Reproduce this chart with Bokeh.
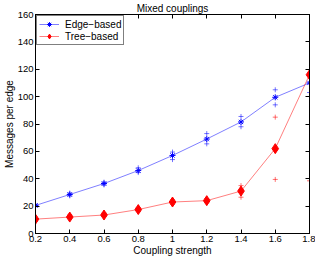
from bokeh.plotting import figure
from bokeh.models import (LinearAxis, FixedTicker, CustomJSTickFormatter, Range1d,
                          Legend, LegendItem)
from bokeh.embed import file_html
from bokeh.resources import INLINE

# ---- data ----
coupling = [0.2, 0.4, 0.6, 0.8, 1.0, 1.2, 1.4, 1.6, 1.8]
edge_mean = [20.5, 28.5, 36.5, 46, 57, 69, 81.5, 99.5, 110]
tree_mean = [10.5, 12, 13.5, 17.5, 23, 24, 31, 62, 116]

edge_trial_x = [0.2, 0.2, 0.4, 0.4, 0.6, 0.6, 0.8, 0.8, 1.0, 1.0, 1.2, 1.2, 1.4, 1.4, 1.6, 1.6, 1.8, 1.8]
edge_trial_y = [19.5, 21.5, 27.5, 29.5, 35.5, 37.5, 44.5, 48, 54, 59.5, 65.5, 73, 78, 85.5, 94, 105, 103, 117]
tree_trial_x = [0.2, 0.2, 0.4, 0.4, 0.6, 0.6, 0.8, 0.8, 1.0, 1.0, 1.2, 1.2, 1.4, 1.4, 1.6, 1.6, 1.8]
tree_trial_y = [9, 12, 11, 13.5, 12.5, 15, 16, 19, 21.5, 24.5, 22.5, 25.5, 26.5, 35, 39.5, 85, 38.5]

x_ticks = [0.2, 0.4, 0.6, 0.8, 1.0, 1.2, 1.4, 1.6, 1.8]
y_ticks = [0, 20, 40, 60, 80, 100, 120, 140, 160]

title_text = "Mixed couplings"
x_label = "Coupling strength"
y_label = "Messages per edge"
series_names = ["Edge\u2212based", "Tree\u2212based"]

FONT = "Liberation Sans"
BLUE = "#0000ff"
RED = "#ff0000"

p = figure(width=315, height=258, output_backend="svg", toolbar_location=None,
           x_range=Range1d(0.2, 1.8), y_range=Range1d(0, 160),
           min_border_left=0, min_border_right=6, min_border_top=0, min_border_bottom=0)

p.title.text = title_text
p.title.align = "center"
p.title.text_font = FONT
p.title.text_font_size = "10px"
p.title.text_font_style = "normal"
p.title.text_color = "#000000"
p.title.standoff = 1
p.title.offset = 0

p.xgrid.visible = False
p.ygrid.visible = False
p.outline_line_color = "#000000"
p.outline_line_width = 1
p.background_fill_color = "white"
p.border_fill_color = "white"

fmt = CustomJSTickFormatter(code="return Number(tick.toFixed(2)).toString();")
blank = CustomJSTickFormatter(code="return '';")

for ax, ticks in ((p.xaxis[0], x_ticks), (p.yaxis[0], y_ticks)):
    ax.ticker = FixedTicker(ticks=ticks)
    ax.formatter = fmt
    ax.major_tick_in = 4
    ax.major_tick_out = 0
    ax.minor_tick_line_color = None
    ax.axis_line_color = "#000000"
    ax.major_tick_line_color = "#000000"
    ax.major_label_text_font = FONT
    ax.major_label_text_font_size = "9.5px"
    ax.major_label_text_color = "#000000"
    ax.major_label_standoff = 2
    ax.axis_label_text_font = FONT
    ax.axis_label_text_font_size = "10px"
    ax.axis_label_text_font_style = "normal"
    ax.axis_label_text_color = "#000000"
    ax.axis_label_standoff = 0

p.xaxis[0].axis_label = x_label
p.yaxis[0].axis_label = y_label

# mirrored axes (box with inward ticks)
top = LinearAxis(ticker=FixedTicker(ticks=x_ticks), formatter=blank,
                 major_tick_in=4, major_tick_out=0, minor_tick_line_color=None,
                 major_label_standoff=0, axis_line_color="#000000")
right = LinearAxis(ticker=FixedTicker(ticks=y_ticks), formatter=blank,
                   major_tick_in=4, major_tick_out=0, minor_tick_line_color=None,
                   major_label_standoff=0, axis_line_color="#000000")
p.add_layout(top, "above")
p.add_layout(right, "right")

# trials
p.scatter(edge_trial_x, edge_trial_y, marker="cross", size=5, line_color=BLUE, line_alpha=0.55)
p.scatter(tree_trial_x, tree_trial_y, marker="cross", size=5, line_color=RED, line_alpha=0.55)

# means
e_line = p.line(coupling, edge_mean, line_color=BLUE, line_alpha=0.5, line_width=1)
e_mark = p.scatter(coupling, edge_mean, marker="asterisk", size=6, line_color=BLUE, line_width=1)
t_line = p.line(coupling, tree_mean, line_color=RED, line_alpha=0.5, line_width=1)
t_mark = p.scatter(coupling, tree_mean, marker="diamond", size=10, fill_color=RED, line_color=RED)

legend = Legend(items=[LegendItem(label=series_names[0], renderers=[e_line, e_mark]),
                       LegendItem(label=series_names[1], renderers=[t_line, t_mark])],
                location="top_left")
legend.label_text_font = FONT
legend.label_text_font_size = "10px"
legend.label_text_color = "#000000"
legend.border_line_color = "#000000"
legend.border_line_width = 1
legend.margin = 1
legend.padding = 2
legend.spacing = 0
legend.label_height = 12
legend.glyph_height = 12
legend.glyph_width = 20
legend.label_standoff = 6
legend.background_fill_alpha = 1
p.add_layout(legend)

open("out.html", "w").write(file_html(p, INLINE))
